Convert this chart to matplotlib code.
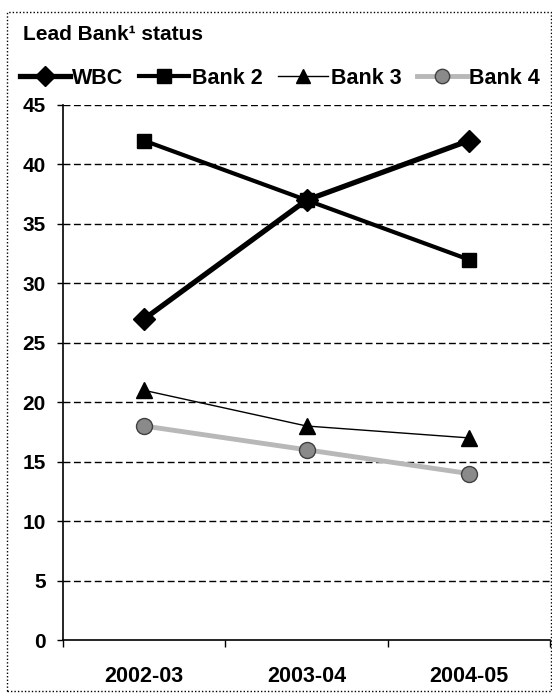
import matplotlib
matplotlib.use("Agg")
import matplotlib.pyplot as plt
from matplotlib.patches import Rectangle

plt.rcParams['font.family'] = ['Liberation Sans', 'DejaVu Sans']

categories = ["2002-03", "2003-04", "2004-05"]
wbc = [27, 37, 42]
bank2 = [42, 37, 32]
bank3 = [21, 18, 17]
bank4 = [18, 16, 14]
series_names = ["WBC", "Bank 2", "Bank 3", "Bank 4"]
yticks = [0, 5, 10, 15, 20, 25, 30, 35, 40, 45]

W, H = 552, 693
fig = plt.figure(figsize=(W / 100, H / 100), dpi=100)
ax = fig.add_axes([63 / W, 1 - 640 / H, (550 - 63) / W, (640 - 105) / H])

x = list(range(len(categories)))
h1, = ax.plot(x, wbc, color='black', lw=3.8, marker='D', ms=11.5,
              mfc='black', mec='black', zorder=5)
h2, = ax.plot(x, bank2, color='black', lw=3.0, marker='s', ms=10.5,
              mfc='black', mec='black', zorder=5)
h3, = ax.plot(x, bank3, color='black', lw=1.0, marker='^', ms=11,
              mfc='black', mec='black', zorder=5)
h4, = ax.plot(x, bank4, color='#b8b8b8', lw=3.5, marker='o', ms=11.5,
              mfc='#8a8a8a', mec='#404040', mew=1.0, zorder=4)

ax.set_xlim(-0.5, 2.5)
ax.set_ylim(0, 45)
ax.set_yticks(yticks)
ax.set_yticklabels([str(v) for v in yticks], fontsize=15, fontweight='bold')
ax.tick_params(axis='y', length=4.5, width=1, pad=8, direction='out')

ax.set_xticks(x)
ax.set_xticklabels(categories, fontsize=15.5, fontweight='bold')
ax.tick_params(axis='x', which='major', length=0, pad=19)
ax.set_xticks([-0.5, 0.5, 1.5, 2.5], minor=True)
ax.tick_params(axis='x', which='minor', length=5, width=1, direction='out')

for v in yticks[1:]:
    ax.axhline(v, color='black', lw=1.0, dashes=(5, 2.5), zorder=1)

for s in ['top', 'right']:
    ax.spines[s].set_visible(False)
ax.spines['left'].set_linewidth(1.2)
ax.spines['bottom'].set_linewidth(1.2)

fig.text(23 / W, 1 - 34 / H, "Lead Bank\u00b9 status", fontsize=15,
         fontweight='bold', va='center', ha='left')

leg = fig.legend([h1, h2, h3, h4], series_names, loc='center left',
                 bbox_to_anchor=(20 / W, 1 - 78 / H), ncol=4, frameon=False,
                 prop={'size': 15.5, 'weight': 'bold'}, handlelength=2.3,
                 handletextpad=0.12, columnspacing=0.75, borderpad=0,
                 borderaxespad=0, markerscale=0.9)

fig.patches.append(Rectangle((7 / W, 2 / H), (551 - 7) / W, (681 - 2) / H,
                             transform=fig.transFigure, fill=False,
                             ls=(0, (1, 1.5)), lw=1.0, ec='black'))

fig.savefig("out.png", dpi=100)
